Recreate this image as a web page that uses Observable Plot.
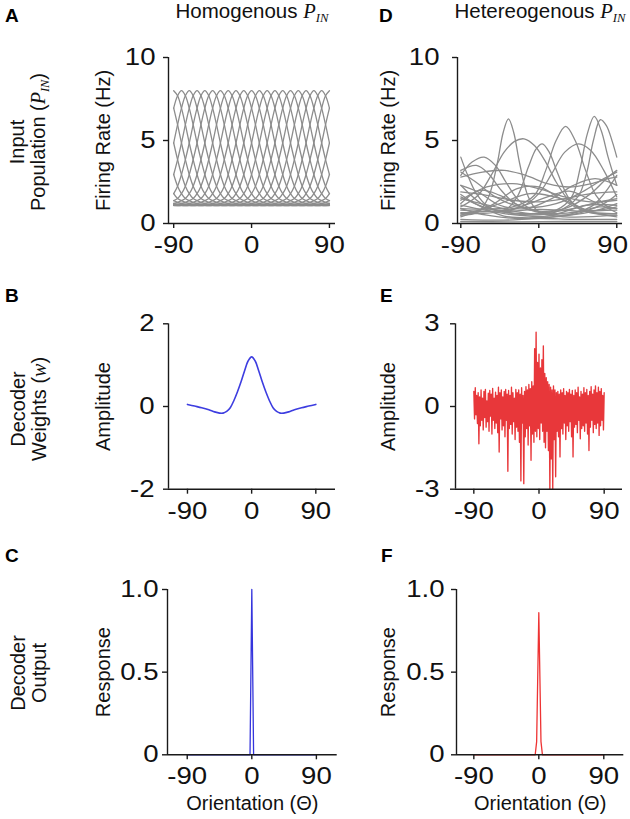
<!DOCTYPE html>
<html><head><meta charset="utf-8">
<script src="https://cdn.jsdelivr.net/npm/d3@7"></script>
<script src="https://cdn.jsdelivr.net/npm/@observablehq/plot@0.6"></script>
<style>
body{margin:0;background:#fff;}
#fig{position:relative;width:630px;height:819px;overflow:hidden;font-family:"Liberation Sans",Arial,Helvetica,sans-serif;color:#111;}
.t{position:absolute;white-space:nowrap;line-height:1;}
.letter{font-weight:bold;font-size:19px;color:#000;}
.title{font-size:20.5px;transform:translateX(-50%);}
.row{position:absolute;white-space:nowrap;font-size:20px;line-height:21px;text-align:center;transform:translate(-50%,-50%) rotate(-90deg);}
.pin{font-family:"Liberation Serif","DejaVu Serif",serif;font-style:italic;}
.sub{font-size:0.62em;position:relative;top:0.32em;}
</style>
</head><body><div id="fig"></div>
<script>
// ---------------- data ----------------
// Panel A: homogeneous population — preferred orientations and the shared tuning profile
const homPref = [-90,-81,-72,-63,-54,-45,-36,-27,-18,-9,0,9,18,27,36,45,54,63,72,81];
const homProfileOffset = [0,4.5,9,13.5,18,22.5,27,31.5,36,40.5,45,49.5,54,58.5,63,67.5,72,76.5,81,85.5,90];
const homProfileRate   = [8.0,7.7,6.95,5.95,4.85,3.85,2.95,2.25,1.8,1.5,1.38,1.28,1.21,1.16,1.13,1.11,1.1,1.09,1.09,1.08,1.08];

// Panel D: heterogeneous population — control points [orientation, rate] per neuron
const hetCurves = [
 [[-90,0.5],[-70,0.7],[-58,1.6],[-48,3.6],[-41,5.5],[-35,6.3],[-29,5.5],[-22,3.6],[-12,1.6],[0,0.7],[30,0.4],[90,0.5]],
 [[-90,1.0],[-70,1.7],[-55,2.9],[-40,4.3],[-28,4.95],[-17,5.1],[-5,4.7],[8,3.7],[20,2.5],[35,1.4],[55,0.8],[90,1.0]],
 [[-90,0.6],[-40,0.8],[-25,1.6],[-12,3.4],[-3,4.5],[4,4.8],[12,4.3],[22,3.0],[35,1.5],[50,0.8],[90,0.6]],
 [[-90,0.9],[-30,1.0],[-5,1.7],[8,3.2],[20,5.0],[31,5.85],[42,5.0],[54,3.2],[66,1.7],[80,1.0],[90,0.9]],
 [[-90,2.3],[-60,1.0],[-20,0.6],[20,0.8],[38,1.6],[48,3.4],[56,5.4],[64,6.45],[72,5.6],[80,4.0],[90,2.3]],
 [[-90,4.0],[-82,2.9],[-72,1.8],[-58,1.0],[-30,0.6],[20,0.7],[45,1.6],[55,3.0],[63,5.0],[71,6.25],[78,5.9],[85,4.9],[90,4.0]],
 [[-90,1.6],[-50,0.8],[-20,1.0],[0,1.8],[15,3.0],[30,4.3],[46,4.8],[60,4.4],[75,3.2],[90,1.6]],
 [[-90,2.9],[-77,3.7],[-63,4.0],[-50,3.5],[-38,2.5],[-25,1.5],[-10,0.9],[20,0.6],[60,1.0],[90,2.9]],
 [[-90,3.2],[-72,3.5],[-58,3.0],[-45,2.1],[-30,1.3],[-10,0.8],[30,0.9],[60,1.8],[80,2.8],[90,3.2]],
 [[-90,2.8],[-65,3.1],[-40,3.2],[-15,2.9],[10,2.4],[35,2.2],[60,2.4],[80,2.7],[90,2.8]],
 [[-90,3.1],[-70,2.4],[-50,1.6],[-20,1.0],[20,1.2],[50,1.9],[75,2.7],[90,3.1]],
 [[-90,1.9],[-60,1.7],[-30,1.4],[0,1.3],[30,1.5],[60,1.8],[90,1.9]],
 [[-90,1.5],[-50,1.0],[-10,0.6],[30,0.8],[70,1.3],[90,1.5]],
 [[-90,0.25],[-40,0.2],[0,0.3],[40,0.25],[90,0.25]],
 [[-90,0.8],[-45,0.7],[0,0.85],[45,0.75],[90,0.8]],
 [[-90,1.2],[-68,2.0],[-45,1.7],[-15,0.9],[25,0.5],[60,0.7],[90,1.2]],
 [[-90,0.5],[-55,1.1],[-25,2.1],[0,2.2],[25,1.5],[55,0.7],[90,0.5]],
 [[-90,1.1],[-40,0.6],[10,0.45],[55,1.1],[90,1.1]],
 [[-90,0.65],[-30,0.9],[10,1.6],[35,1.95],[60,1.4],[90,0.65]],
 [[-90,0.12],[-30,0.1],[30,0.12],[90,0.12]],
 [[-90,1.75],[-70,1.1],[-40,0.45],[0,0.35],[40,0.55],[75,1.2],[90,1.75]],
 [[-90,2.3],[-70,1.9],[-45,1.1],[-15,0.9],[15,1.5],[40,2.3],[65,2.7],[90,2.3]],
 [[-90,0.4],[-45,1.2],[-10,1.8],[25,1.5],[60,0.7],[90,0.4]],
 [[-90,1.4],[-60,2.2],[-30,2.4],[0,2.1],[30,1.6],[60,1.3],[90,1.4]],
 [[-90,0.9],[-60,0.5],[-20,0.3],[30,0.5],[70,1.0],[90,0.9]]
];

// Panel B: decoder weights (homogeneous)
const wTheta = [-90,-80,-70,-60,-52,-45,-40,-35,-30,-25,-20,-15,-10,-5,0,5,10,15,20,25,30,35,40,45,52,60,70,80,90];
const wValue = [0.05,0.01,-0.03,-0.08,-0.13,-0.16,-0.16,-0.12,-0.03,0.14,0.35,0.59,0.86,1.1,1.2,1.1,0.86,0.59,0.35,0.14,-0.03,-0.12,-0.16,-0.16,-0.13,-0.08,-0.03,0.01,0.05];

// Panel E: decoder weights (heterogeneous), one value per degree from -90 to 90
const eValue = [
 0.55,-0.45,0.68,-0.3,0.4,-0.62,0.5,-1.35,0.35,-0.7,
 0.6,-0.5,0.3,-0.85,0.55,-0.4,0.62,-0.75,0.2,-0.55,
 0.48,-0.9,0.58,-0.35,0.45,-1.0,0.66,-0.5,0.3,-0.8,
 0.52,-0.6,0.4,-0.95,0.7,-1.65,0.5,-0.45,0.6,-0.85,
 0.35,-0.7,0.55,-1.1,0.62,-0.5,0.45,-2.35,0.58,-0.8,
 0.4,-0.65,0.7,-1.0,0.5,-0.55,0.3,-1.2,0.62,-0.75,
 0.5,-0.9,0.6,-1.3,0.45,-2.7,0.68,-0.6,0.4,-2.8,
 0.55,-1.1,0.72,-0.8,0.6,-1.4,0.8,-0.7,0.65,-1.95,
 0.9,-1.0,0.75,-1.3,2.1,-0.9,2.7,-1.1,1.6,-0.8,
 1.9,-1.2,1.4,-0.6,1.7,-0.9,2.2,-1.3,1.2,-1.5,
 1.05,-0.9,0.9,-1.6,0.8,-3.0,0.7,-1.9,0.6,-3.0,
 0.75,-1.2,0.6,-2.55,0.5,-0.9,0.55,-1.1,0.45,-1.83,
 0.6,-0.8,0.5,-1.0,0.65,-0.6,0.4,-1.2,0.55,-0.7,
 0.5,-0.9,0.62,-0.55,0.45,-1.1,0.58,-1.83,0.4,-0.75,
 0.6,-0.65,0.5,-0.95,0.7,-0.5,0.35,-1.17,0.55,-0.8,
 0.45,-0.7,0.68,-0.9,0.5,-0.6,0.62,-1.0,0.4,-1.6,
 0.55,-0.75,0.72,-0.5,0.45,-0.95,0.6,-0.65,0.75,-0.8,
 0.5,-0.6,0.7,-1.05,0.55,-0.7,0.65,-0.5,0.4,-0.85,
 0.5
];

// Panel C / F: decoder output
const cTheta = [-90,-2.5,0,2.5,90];
const cValue = [0,0,1.0,0,0];
const fTheta = [-90,-5,-3,0,3,5,90];
const fValue = [0,0,0.08,0.86,0.08,0,0];

const xTickValues = [-90,0,90];
const rateTicks = [0,5,10];
const wTicksB = [-2,0,2];
const wTicksE = [-3,0,3];
const respTicks = [0,0.5,1];

// ---------------- build tables ----------------
const wrap = t => ((t + 90) % 180 + 180) % 180 - 90;
const homRows = [];
homPref.forEach((p, ci) => {
  const pts = new Map();
  homProfileOffset.forEach((o, k) => {
    for (const s of [-1, 1]) pts.set(wrap(p + s * o), homProfileRate[k]);
  });
  if (pts.has(-90)) pts.set(90, pts.get(-90));
  [...pts.entries()].sort((a, b) => a[0] - b[0]).forEach(([t, r]) => homRows.push({curve: ci, theta: t, rate: r}));
});
const hetRows = hetCurves.flatMap((c, ci) => c.map(([t, r]) => ({curve: ci, theta: t, rate: r})));
const wRows = wTheta.map((t, i) => ({theta: t, w: wValue[i]}));
const eRows = eValue.map((v, i) => ({theta: i - 90, w: v}));
const cRows = cTheta.map((t, i) => ({theta: t, r: cValue[i]}));
const fRows = fTheta.map((t, i) => ({theta: t, r: fValue[i]}));

// ---------------- drawing ----------------
const fig = document.getElementById("fig");
const FONT = '"Liberation Sans", Arial, Helvetica, sans-serif';
const AXIS = "#1a1a1a";
const GRAY = "#8c8c8c";
const S = 1.2;          // horizontal widening of tick numerals, as in the original
const RIGHT_LIMIT = 628;

function stretchTicks(svg) {
  const figBox = fig.getBoundingClientRect();
  svg.querySelectorAll('g[aria-label$="tick label"] text').forEach(t => {
    const b = t.getBBox();
    const anchor = getComputedStyle(t).textAnchor;
    const ax = anchor === "end" ? b.x + b.width : anchor === "start" ? b.x : b.x + b.width / 2;
    const tr = t.getAttribute("transform") || "";
    const stretch = ` translate(${ax},0) scale(${S},1) translate(${-ax},0)`;
    t.setAttribute("transform", tr + stretch);
    const r = t.getBoundingClientRect();
    const over = r.right - (figBox.left + RIGHT_LIMIT);
    if (over > 0) t.setAttribute("transform", tr + ` translate(${-over},0)` + stretch);
  });
}

function panel(o) {
  const [bl, bt, br, bb] = o.box;
  const [fl, ft, fr, fb] = o.frame;
  const marks = [
    ...o.marks,
    Plot.ruleX([o.xDomain[0]], {y1: o.yDomain[0], y2: o.yDomain[1], stroke: AXIS, strokeWidth: 1.4}),
    Plot.ruleY([o.yDomain[0]], {x1: o.xDomain[0], x2: o.xDomain[1], stroke: AXIS, strokeWidth: 1.4}),
    Plot.axisX(xTickValues, {tickSize: 5, tickPadding: 8, stroke: AXIS, strokeWidth: 1.4, label: null, tickFormat: d => String(d), fontSize: 23}),
    Plot.axisY(o.yTicks, {tickSize: 5, tickPadding: o.yPad, stroke: AXIS, strokeWidth: 1.4, label: null, tickFormat: o.yFormat || (d => String(d)), fontSize: 23}),
    Plot.text([o.yTitle], {text: d => d, frameAnchor: "left", textAnchor: "middle", rotate: -90, dx: o.yTitleX - fl, lineAnchor: "top", fontSize: 20})
  ];
  if (o.xTitle) marks.push(Plot.text([o.xTitle], {text: d => d, frameAnchor: "bottom", textAnchor: "middle", dy: o.xTitleY - fb, lineAnchor: "top", fontSize: 20}));
  const svg = Plot.plot({
    width: br - bl, height: bb - bt,
    marginLeft: fl - bl, marginRight: br - fr, marginTop: ft - bt, marginBottom: bb - fb,
    style: {fontFamily: FONT, fontSize: "23px", color: "#111", background: "transparent", overflow: "visible"},
    x: {domain: o.xDomain},
    y: {domain: o.yDomain},
    marks
  });
  svg.style.position = "absolute";
  svg.style.left = bl + "px";
  svg.style.top = bt + "px";
  fig.appendChild(svg);
  stretchTicks(svg);
}

// A
panel({box: [88, 40, 345, 262], frame: [168, 57, 335, 223], xDomain: [-96, 97], yDomain: [0, 10],
  yTicks: rateTicks, yPad: 8, yTitle: "Firing Rate (Hz)", yTitleX: 95,
  marks: [Plot.line(homRows, {x: "theta", y: "rate", z: "curve", stroke: GRAY, strokeWidth: 1.3, curve: "catmull-rom"})]});
// D
panel({box: [375, 40, 630, 262], frame: [457, 57, 622, 223], xDomain: [-93.8, 96.6], yDomain: [0, 10],
  yTicks: rateTicks, yPad: 13, yTitle: "Firing Rate (Hz)", yTitleX: 380,
  marks: [Plot.line(hetRows, {x: "theta", y: "rate", z: "curve", stroke: GRAY, strokeWidth: 1.3, curve: "catmull-rom"})]});
// B
panel({box: [88, 300, 345, 530], frame: [168, 323.3, 335, 488.7], xDomain: [-116.6, 117.6], yDomain: [-2, 2],
  yTicks: wTicksB, yPad: 9, yTitle: "Amplitude", yTitleX: 95,
  marks: [Plot.line(wRows, {x: "theta", y: "w", stroke: "#3d3de0", strokeWidth: 1.6, curve: "catmull-rom"})]});
// E
panel({box: [375, 300, 630, 530], frame: [455, 323.3, 622, 488.7], xDomain: [-115.3, 115.3], yDomain: [-3, 3],
  yTicks: wTicksE, yPad: 11, yTitle: "Amplitude", yTitleX: 380,
  marks: [Plot.line(eRows, {x: "theta", y: "w", stroke: "#e8373a", strokeWidth: 1.35})]});
// C
panel({box: [88, 570, 345, 819], frame: [167, 589, 336.7, 754.3], xDomain: [-117.5, 119], yDomain: [0, 1],
  yTicks: respTicks, yPad: 4, yTitle: "Response", yTitleX: 95, yFormat: d => d === 0 ? "0" : d.toFixed(1),
  xTitle: "Orientation (Θ)", xTitleY: 795,
  marks: [Plot.line(cRows, {x: "theta", y: "r", stroke: "#3535dd", strokeWidth: 1.3})]});
// F
panel({box: [375, 570, 630, 819], frame: [456, 589, 623.3, 754.3], xDomain: [-114, 117.7], yDomain: [0, 1],
  yTicks: respTicks, yPad: 7, yTitle: "Response", yTitleX: 380, yFormat: d => d === 0 ? "0" : d.toFixed(1),
  xTitle: "Orientation (Θ)", xTitleY: 795,
  marks: [Plot.line(fRows, {x: "theta", y: "r", stroke: "#ee3333", strokeWidth: 1.3})]});

// ---------------- html text ----------------
function addText(cls, html, left, top) {
  const d = document.createElement("div");
  d.className = "t " + cls;
  d.innerHTML = html;
  d.style.left = left + "px";
  d.style.top = top + "px";
  fig.appendChild(d);
}
// panel letters
addText("letter", "A", 5, 5.5);
addText("letter", "D", 379, 5.5);
addText("letter", "B", 5, 285.5);
addText("letter", "E", 380, 285.5);
addText("letter", "C", 5, 545.5);
addText("letter", "F", 381, 545.5);
// column titles
addText("title", 'Homogenous <span class="pin">P<span class="sub">IN</span></span>', 252, 1.2);
addText("title", 'Hetereogenous <span class="pin">P<span class="sub">IN</span></span>', 540, 1.2);
// row labels
function addRow(html, cx, cy) {
  const d = document.createElement("div");
  d.className = "row";
  d.innerHTML = html;
  d.style.left = cx + "px";
  d.style.top = cy + "px";
  fig.appendChild(d);
}
addRow('Input<br>Population (<span class="pin">P<span class="sub">IN</span></span>)', 28.6, 142);
addRow('Decoder<br>Weights (<span class="pin">w</span>)', 28.6, 409);
addRow('Decoder<br>Output', 28.6, 673);
</script>
</body></html>
